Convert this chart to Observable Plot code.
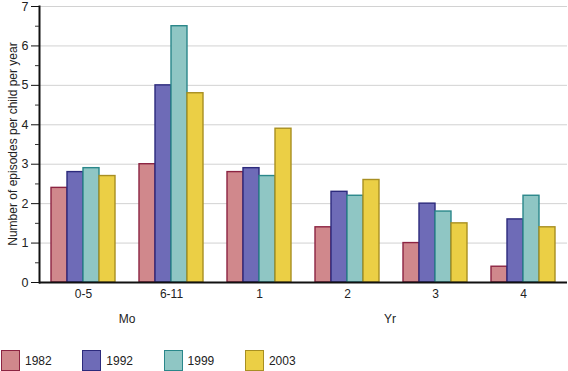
<!DOCTYPE html>
<html>
<head>
<meta charset="utf-8">
<script src="https://cdn.jsdelivr.net/npm/d3@7"></script>
<script src="https://cdn.jsdelivr.net/npm/@observablehq/plot@0.6"></script>
<style>
  body { margin: 0; background: #fff; font-family: "Liberation Sans", Arial, sans-serif; }
  #wrap { position: relative; width: 568px; height: 371px; overflow: hidden; }
  .lab { position: absolute; font-size: 12px; color: #222; transform: translate(-50%, -50%); white-space: nowrap; }
  .ylab { position: absolute; font-size: 12px; color: #222; white-space: nowrap; transform: translate(-50%, -50%) rotate(-90deg); }
  .sw { position: absolute; width: 17px; height: 19px; box-sizing: content-box; }
  .lt { position: absolute; font-size: 12px; color: #222; transform: translateY(-50%); }
</style>
</head>
<body>
<div id="wrap"></div>
<script>
const groups = ["0-5", "6-11", "1", "2", "3", "4"];
const years = ["1982", "1992", "1999", "2003"];
const v1982 = [2.4, 3.0, 2.8, 1.4, 1.0, 0.4];
const v1992 = [2.8, 5.0, 2.9, 2.3, 2.0, 1.6];
const v1999 = [2.9, 6.5, 2.7, 2.2, 1.8, 2.2];
const v2003 = [2.7, 4.8, 3.9, 2.6, 1.5, 1.4];
const yTicks = [0, 1, 2, 3, 4, 5, 6, 7];
const yMinorTicks = [0.5, 1.5, 2.5, 3.5, 4.5, 5.5, 6.5];
const fills = ["#d0888c", "#6e6bb7", "#8fc6c4", "#ebcf45"];
const strokes = ["#8c2442", "#2c2a7c", "#2a878a", "#a88f22"];
const yLabel = "Number of episodes per child per year";
const unitLabels = [{text: "Mo", x: 127, y: 319}, {text: "Yr", x: 390, y: 319}];

const series = [v1982, v1992, v1999, v2003];
const data = [];
groups.forEach((g, gi) => {
  years.forEach((yr, yi) => {
    data.push({group: g, year: yr, value: series[yi][gi], fill: fills[yi], stroke: strokes[yi]});
  });
});

const chart = Plot.plot({
  width: 568,
  height: 371,
  marginTop: 6,
  marginBottom: 89,
  marginLeft: 38,
  marginRight: 0,
  style: {fontFamily: "'Liberation Sans', Arial, sans-serif", fontSize: "12px", color: "#222", background: "#fff"},
  fx: {domain: groups, padding: 0, axis: null, label: null},
  x: {domain: years, paddingInner: 0, paddingOuter: 0.67, axis: null},
  y: {domain: [0, 7], axis: null, label: null},
  marks: [
    Plot.gridY(yTicks, {stroke: "#d2d2d2", strokeOpacity: 1, strokeWidth: 1}),
    Plot.barY(data, {fx: "group", x: "year", y: "value", fill: "fill", stroke: "stroke", strokeWidth: 1.4}),
    Plot.ruleY([0], {stroke: "#111", strokeWidth: 2}),
    Plot.frame({anchor: "left", facetAnchor: "left", stroke: "#111", strokeWidth: 2}),
    Plot.axisY({ticks: yMinorTicks, tickSize: 4, tickFormat: () => "", stroke: "#333", label: null}),
    Plot.axisY({ticks: yTicks, tickSize: 8, tickPadding: 3, tickFormat: d3.format("d"), stroke: "#111",
      fill: "#222", label: null, fontSize: 12.5}),
    Plot.axisFx({anchor: "bottom", tickSize: 0, tickPadding: 7, label: null, fontSize: 12, fill: "#222"})
  ]
});

const wrap = document.getElementById("wrap");
wrap.appendChild(chart);

const yl = document.createElement("div");
yl.className = "ylab";
yl.textContent = yLabel;
yl.style.left = "13px";
yl.style.top = "144px";
wrap.appendChild(yl);

unitLabels.forEach(u => {
  const d = document.createElement("div");
  d.className = "lab";
  d.textContent = u.text;
  d.style.left = u.x + "px";
  d.style.top = u.y + "px";
  wrap.appendChild(d);
});

years.forEach((yr, i) => {
  const x0 = 1 + i * 81.3;
  const s = document.createElement("div");
  s.className = "sw";
  s.style.left = x0 + "px";
  s.style.top = "350px";
  s.style.background = fills[i];
  s.style.border = "1.3px solid " + strokes[i];
  wrap.appendChild(s);
  const t = document.createElement("div");
  t.className = "lt";
  t.textContent = yr;
  t.style.left = (x0 + 24) + "px";
  t.style.top = "361px";
  wrap.appendChild(t);
});
</script>
</body>
</html>
